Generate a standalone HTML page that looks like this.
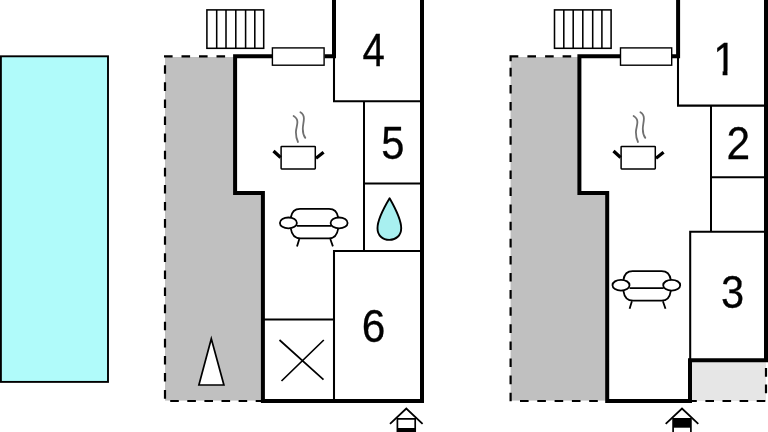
<!DOCTYPE html>
<html lang="en"><head><meta charset="utf-8"><title>Floor plan</title>
<style>html,body{margin:0;padding:0;background:#fff;overflow:hidden}svg{display:block}</style></head>
<body>
<svg width="768" height="432" viewBox="0 0 768 432">
<rect width="768" height="432" fill="#fff"/>
<rect x="0.9" y="56.3" width="107.1" height="325.6" fill="#b0fbfa" stroke="#000" stroke-width="1.9"/>
<rect x="165" y="57" width="98" height="343.6" fill="#c0c0c0"/>
<path d="M235.1 56.3V193H262.9V401H422V0H334V56.3Z" fill="#fff"/>
<path d="M164.0 56.3h8.6M181.5 56.3h8.6M199.0 56.3h8.6M216.5 56.3h8.6" stroke="#000" stroke-width="2.2" fill="none"/>
<path d="M165 65.2v8.6M165 82.3v8.6M165 99.4v8.6M165 116.5v8.6M165 133.6v8.6M165 150.7v8.6M165 167.8v8.6M165 184.9v8.6M165 202.0v8.6M165 219.1v8.6M165 236.2v8.6M165 253.3v8.6M165 270.4v8.6M165 287.5v8.6M165 304.6v8.6M165 321.7v8.6M165 338.8v8.6M165 355.9v8.6M165 373.0v8.6M165 390.1v8.6" stroke="#000" stroke-width="2.2" fill="none"/>
<path d="M170.2 401h8.6M187.3 401h8.6M204.4 401h8.6M221.5 401h8.6M238.6 401h8.6M255.7 401h8.6" stroke="#000" stroke-width="2.2" fill="none"/>
<g stroke="#000" stroke-width="1.55" fill="#fff"><rect x="206.9" y="9.9" width="56.8" height="38.4"/><path d="M216.7 9.9v38.4M226 9.9v38.4M235.8 9.9v38.4M245.6 9.9v38.4M254.8 9.9v38.4" fill="none"/></g>
<g stroke="#000" stroke-width="2.05" fill="none"><path d="M334 56V101.2H422"/><path d="M364 101.2V251"/><path d="M364 183.5H422"/><path d="M422 251H334V401"/><path d="M263 319.5H334"/></g>
<path d="M279.5 340L323.5 379.6M323.8 340L281.5 381" stroke="#000" stroke-width="1.7" fill="none"/>
<g stroke="#000" stroke-width="4" fill="none" stroke-linejoin="miter"><path d="M272 56.3H235.1V193H262.9V401H422V0"/><path d="M334 0V56.3H324.5"/></g>
<rect x="272.4" y="47.9" width="51.7" height="17.3" fill="#fff" stroke="#000" stroke-width="1.4"/>
<path d="M211.3 338.8L198.9 385H223.9Z" fill="#fff" stroke="#000" stroke-width="1.7" stroke-linejoin="miter"/>
<path d="M389.6 198.3C394 206 401.2 219 401.2 228.2C401.2 235.4 396 239.9 389.4 239.9C382.5 239.9 377.5 235.4 377.5 228.2C377.5 219 385 206 389.6 198.3Z" fill="#a8f0f0" stroke="#000" stroke-width="1.9" stroke-linejoin="round"/>
<g transform="translate(0 0)"><rect x="281.1" y="146.5" width="34.2" height="22.4" rx="0.6" fill="#fff" stroke="#000" stroke-width="1.5"/><path d="M273.5 151L280.6 157.5M323.6 152.2L316 158.2" stroke="#000" stroke-width="3.3" fill="none"/><path d="M293.6 116C296 117.5 297.4 119 297.4 122C297.4 126 295.9 128.5 295.9 132.3C295.9 136.5 296.5 139 298 142" stroke="#707070" stroke-width="1.8" stroke-linecap="round" fill="none"/><path d="M300.4 112.3C302.5 113.5 303.9 115.5 303.9 118.5C303.9 122 302.8 125 302.8 129C302.8 133 303.5 135.5 305.3 137.9" stroke="#707070" stroke-width="1.8" stroke-linecap="round" fill="none"/></g>
<g transform="translate(0 0)" stroke="#000" stroke-width="1.8" fill="none"><path d="M290.8 217.5C291.5 213 294 208.8 300 208.8H329C335 208.8 337.5 213 338.2 217.5"/><path d="M297 225.9H331"/><path d="M290.8 228.5C291.5 233.5 294 238.4 300.5 238.4H329C335.5 238.4 337.5 233.5 338.2 228.5"/><path d="M299.3 239L297 246.4M330.3 239L332.9 246.4"/><ellipse cx="288.4" cy="222.9" rx="8.5" ry="5.4" fill="#fff"/><ellipse cx="339.1" cy="222.9" rx="8.5" ry="5.4" fill="#fff"/></g>
<g transform="translate(0 0)"><rect x="397.4" y="428" width="17.8" height="5" fill="#000"/><path d="M397.4 432V418.9H415.2V432" stroke="#000" stroke-width="1.7" fill="none"/><path d="M390 423.9L406.3 408.5L422.6 423.9" stroke="#000" stroke-width="1.8" fill="none" stroke-linejoin="miter"/></g>
<rect x="510.6" y="57" width="98" height="343.6" fill="#c0c0c0"/>
<path d="M579.4 56.3V193H607.2V401H690V360.2H768V0H678V56.3Z" fill="#fff"/>
<rect x="690" y="360" width="76" height="41" fill="#e6e6e6"/>
<path d="M509.7 56.3h8.6M527.4 56.3h8.6M545.1 56.3h8.6M562.6 56.3h8.6M510.6 55.2V61.2" stroke="#000" stroke-width="2.2" fill="none"/>
<path d="M510.6 67.8v8.6M510.6 84.9v8.6M510.6 102.0v8.6M510.6 119.1v8.6M510.6 136.2v8.6M510.6 153.3v8.6M510.6 170.4v8.6M510.6 187.5v8.6M510.6 204.6v8.6M510.6 221.7v8.6M510.6 238.8v8.6M510.6 255.9v8.6M510.6 273.0v8.6M510.6 290.1v8.6M510.6 307.2v8.6M510.6 324.3v8.6M510.6 341.4v8.6M510.6 358.5v8.6M510.6 375.6v8.6M510.6 392.7v8.6" stroke="#000" stroke-width="2.2" fill="none"/>
<path d="M520.0 401h8.6M537.3 401h8.6M554.6 401h8.6M571.9 401h8.6M589.2 401h8.6" stroke="#000" stroke-width="2.2" fill="none"/>
<path d="M688.2 401h8.6M705.4 401h8.6M722.5 401h8.6M739.6 401h8.6M756.7 401h8.6M766 393.2V384.6M766 376.7V368.1" stroke="#000" stroke-width="2.2" fill="none"/>
<g stroke="#000" stroke-width="1.55" fill="#fff"><rect x="554.5" y="9.9" width="56.6" height="38.4"/><path d="M563.8 9.9v38.4M573.2 9.9v38.4M582.8 9.9v38.4M592.7 9.9v38.4M601.9 9.9v38.4" fill="none"/></g>
<g stroke="#000" stroke-width="2.05" fill="none"><path d="M678 56V105.6H766"/><path d="M711 105.6V231.7"/><path d="M711 177.2H766"/><path d="M766 231.7H690.2V360"/></g>
<g stroke="#000" stroke-width="4" fill="none" stroke-linejoin="miter"><path d="M620 56.3H579.4V193H607.2V401H690V360.3H766V0"/><path d="M678.1 0V56.3H672"/></g>
<rect x="620.5" y="47.9" width="51.2" height="17.3" fill="#fff" stroke="#000" stroke-width="1.4"/>
<g transform="translate(340 0)"><rect x="281.1" y="146.5" width="34.2" height="22.4" rx="0.6" fill="#fff" stroke="#000" stroke-width="1.5"/><path d="M273.5 151L280.6 157.5M323.6 152.2L316 158.2" stroke="#000" stroke-width="3.3" fill="none"/><path d="M293.6 116C296 117.5 297.4 119 297.4 122C297.4 126 295.9 128.5 295.9 132.3C295.9 136.5 296.5 139 298 142" stroke="#707070" stroke-width="1.8" stroke-linecap="round" fill="none"/><path d="M300.4 112.3C302.5 113.5 303.9 115.5 303.9 118.5C303.9 122 302.8 125 302.8 129C302.8 133 303.5 135.5 305.3 137.9" stroke="#707070" stroke-width="1.8" stroke-linecap="round" fill="none"/></g>
<g transform="translate(332.6 62.3)" stroke="#000" stroke-width="1.8" fill="none"><path d="M290.8 217.5C291.5 213 294 208.8 300 208.8H329C335 208.8 337.5 213 338.2 217.5"/><path d="M297 225.9H331"/><path d="M290.8 228.5C291.5 233.5 294 238.4 300.5 238.4H329C335.5 238.4 337.5 233.5 338.2 228.5"/><path d="M299.3 239L297 246.4M330.3 239L332.9 246.4"/><ellipse cx="288.4" cy="222.9" rx="8.5" ry="5.4" fill="#fff"/><ellipse cx="339.1" cy="222.9" rx="8.5" ry="5.4" fill="#fff"/></g>
<g transform="translate(275.7 0)"><rect x="397.4" y="418.9" width="17.8" height="8.8" fill="#000"/><path d="M397.4 432V418.9H415.2V432" stroke="#000" stroke-width="1.7" fill="none"/><path d="M390 423.9L406.3 408.5L422.6 423.9" stroke="#000" stroke-width="1.8" fill="none" stroke-linejoin="miter"/></g>
<defs><clipPath id="c1"><path d="M700 30H760V70.8H727.45V80H722.65V70.8H700Z"/></clipPath></defs>
<g font-family="'Liberation Sans', Arial, sans-serif" font-size="46.2" text-anchor="middle" fill="#000" stroke="#000" stroke-width="0.3" opacity="0.999"><text x="373.8" y="66.1" transform="translate(373.8 0) scale(0.87 1) translate(-373.8 0)">4</text><text x="392.7" y="158.6" transform="translate(392.7 0) scale(0.9 1) translate(-392.7 0)">5</text><text x="373.5" y="342" transform="translate(373.5 0) scale(0.92 1) translate(-373.5 0)">6</text><g clip-path="url(#c1)"><text x="724.8" y="75.2" transform="translate(724.8 0) scale(0.9 1) translate(-724.8 0)">1</text></g><text x="738.3" y="159" transform="translate(738.3 0) scale(0.92 1) translate(-738.3 0)">2</text><text x="732.6" y="307.8" transform="translate(732.6 0) scale(0.9 1) translate(-732.6 0)">3</text></g>
</svg>
</body></html>
